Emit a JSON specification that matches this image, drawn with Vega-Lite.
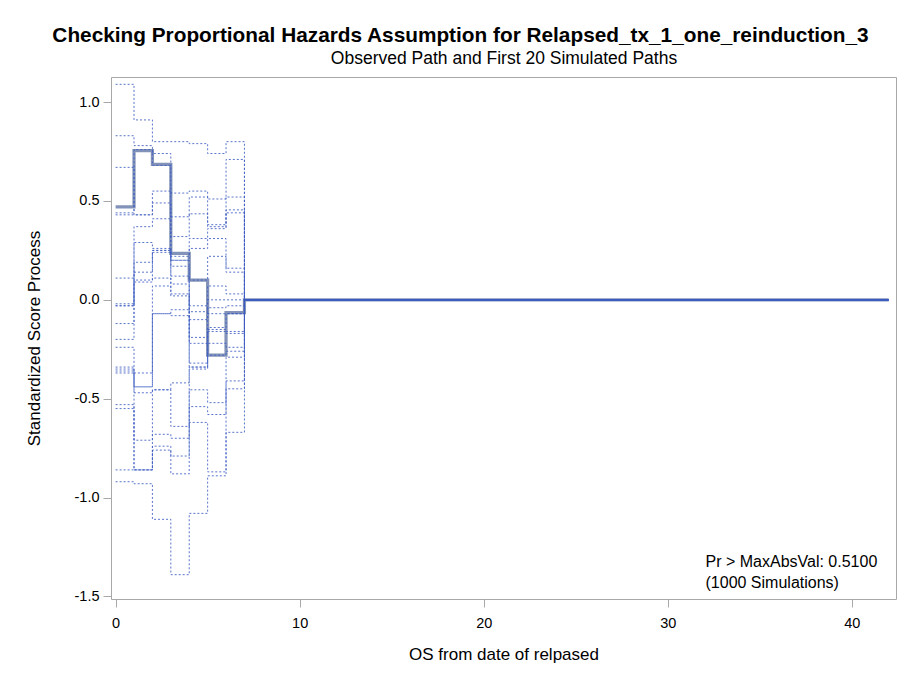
{
  "$schema": "https://vega.github.io/schema/vega-lite/v6.json",
  "width": 785,
  "height": 522,
  "autosize": {"type": "none"},
  "padding": {"left": 111, "top": 77, "right": 5, "bottom": 77},
  "background": "white",
  "title": {
    "text": "Checking Proportional Hazards Assumption for Relapsed_tx_1_one_reinduction_3",
    "anchor": "middle",
    "frame": "bounds",
    "font": "Liberation Sans",
    "fontSize": 20.8,
    "fontWeight": "bold",
    "color": "#000000",
    "offset": 2
  },
  "resolve": {"axis": {"x": "independent"}},
  "config": {
    "view": {"stroke": "#A8A8A8", "strokeWidth": 1},
    "axis": {
      "domain": false,
      "grid": false,
      "tickColor": "#A8A8A8",
      "tickSize": 8,
      "labelFont": "Liberation Sans",
      "labelFontSize": 14.5,
      "labelColor": "#000000",
      "titleFont": "Liberation Sans",
      "titleFontSize": 17,
      "titleFontWeight": "normal",
      "titleColor": "#000000"
    }
  },
  "datasets": {
    "sim": [
      {"path": "p1", "t": 0, "v": 1.09}, {"path": "p1", "t": 1, "v": 0.91}, {"path": "p1", "t": 2, "v": 0.80}, {"path": "p1", "t": 3, "v": 0.80}, {"path": "p1", "t": 4, "v": 0.79}, {"path": "p1", "t": 5, "v": 0.74}, {"path": "p1", "t": 6, "v": 0.80}, {"path": "p1", "t": 7, "v": 0}, {"path": "p1", "t": 42, "v": 0},
      {"path": "p2", "t": 0, "v": 0.83}, {"path": "p2", "t": 1, "v": 0.78}, {"path": "p2", "t": 2, "v": 0.74}, {"path": "p2", "t": 3, "v": 0.54}, {"path": "p2", "t": 4, "v": 0.55}, {"path": "p2", "t": 5, "v": 0.51}, {"path": "p2", "t": 6, "v": 0.71}, {"path": "p2", "t": 7, "v": 0}, {"path": "p2", "t": 42, "v": 0},
      {"path": "p3", "t": 0, "v": 0.67}, {"path": "p3", "t": 1, "v": 0.43}, {"path": "p3", "t": 2, "v": 0.55}, {"path": "p3", "t": 3, "v": 0.42}, {"path": "p3", "t": 4, "v": 0.52}, {"path": "p3", "t": 5, "v": 0.38}, {"path": "p3", "t": 6, "v": 0.52}, {"path": "p3", "t": 7, "v": 0}, {"path": "p3", "t": 42, "v": 0},
      {"path": "p4", "t": 0, "v": 0.44}, {"path": "p4", "t": 1, "v": 0.76}, {"path": "p4", "t": 2, "v": 0.68}, {"path": "p4", "t": 3, "v": 0.32}, {"path": "p4", "t": 4, "v": 0.435}, {"path": "p4", "t": 5, "v": 0.37}, {"path": "p4", "t": 6, "v": 0.455}, {"path": "p4", "t": 7, "v": 0}, {"path": "p4", "t": 42, "v": 0},
      {"path": "p5", "t": 0, "v": 0.43}, {"path": "p5", "t": 1, "v": 0.43}, {"path": "p5", "t": 2, "v": 0.49}, {"path": "p5", "t": 3, "v": 0.22}, {"path": "p5", "t": 4, "v": 0.31}, {"path": "p5", "t": 5, "v": 0.36}, {"path": "p5", "t": 6, "v": 0.44}, {"path": "p5", "t": 7, "v": 0}, {"path": "p5", "t": 42, "v": 0},
      {"path": "p6", "t": 0, "v": 0.11}, {"path": "p6", "t": 1, "v": 0.37}, {"path": "p6", "t": 2, "v": 0.41}, {"path": "p6", "t": 3, "v": 0.20}, {"path": "p6", "t": 4, "v": 0.26}, {"path": "p6", "t": 5, "v": 0.31}, {"path": "p6", "t": 6, "v": 0.16}, {"path": "p6", "t": 7, "v": 0}, {"path": "p6", "t": 42, "v": 0},
      {"path": "p7", "t": 0, "v": -0.02}, {"path": "p7", "t": 1, "v": 0.29}, {"path": "p7", "t": 2, "v": 0.26}, {"path": "p7", "t": 3, "v": 0.20}, {"path": "p7", "t": 4, "v": 0.10}, {"path": "p7", "t": 5, "v": 0.22}, {"path": "p7", "t": 6, "v": 0.14}, {"path": "p7", "t": 7, "v": 0}, {"path": "p7", "t": 42, "v": 0},
      {"path": "p8", "t": 0, "v": -0.03}, {"path": "p8", "t": 1, "v": 0.19}, {"path": "p8", "t": 2, "v": 0.25}, {"path": "p8", "t": 3, "v": 0.17}, {"path": "p8", "t": 4, "v": -0.03}, {"path": "p8", "t": 5, "v": 0.07}, {"path": "p8", "t": 6, "v": 0.03}, {"path": "p8", "t": 7, "v": 0}, {"path": "p8", "t": 42, "v": 0},
      {"path": "p9", "t": 0, "v": -0.03}, {"path": "p9", "t": 1, "v": 0.14}, {"path": "p9", "t": 2, "v": 0.25}, {"path": "p9", "t": 3, "v": 0.12}, {"path": "p9", "t": 4, "v": -0.06}, {"path": "p9", "t": 5, "v": 0.00}, {"path": "p9", "t": 6, "v": 0.00}, {"path": "p9", "t": 7, "v": 0}, {"path": "p9", "t": 42, "v": 0},
      {"path": "p10", "t": 0, "v": -0.12}, {"path": "p10", "t": 1, "v": 0.10}, {"path": "p10", "t": 2, "v": 0.24}, {"path": "p10", "t": 3, "v": 0.08}, {"path": "p10", "t": 4, "v": -0.10}, {"path": "p10", "t": 5, "v": -0.04}, {"path": "p10", "t": 6, "v": -0.03}, {"path": "p10", "t": 7, "v": 0}, {"path": "p10", "t": 42, "v": 0},
      {"path": "p11", "t": 0, "v": -0.20}, {"path": "p11", "t": 1, "v": 0.09}, {"path": "p11", "t": 2, "v": 0.11}, {"path": "p11", "t": 3, "v": 0.03}, {"path": "p11", "t": 4, "v": -0.19}, {"path": "p11", "t": 5, "v": -0.07}, {"path": "p11", "t": 6, "v": -0.07}, {"path": "p11", "t": 7, "v": 0}, {"path": "p11", "t": 42, "v": 0},
      {"path": "p12", "t": 0, "v": -0.24}, {"path": "p12", "t": 1, "v": -0.37}, {"path": "p12", "t": 2, "v": 0.07}, {"path": "p12", "t": 3, "v": 0.02}, {"path": "p12", "t": 4, "v": -0.22}, {"path": "p12", "t": 5, "v": -0.14}, {"path": "p12", "t": 6, "v": -0.07}, {"path": "p12", "t": 7, "v": 0}, {"path": "p12", "t": 42, "v": 0},
      {"path": "p13", "t": 0, "v": -0.34}, {"path": "p13", "t": 1, "v": -0.44}, {"path": "p13", "t": 2, "v": -0.07}, {"path": "p13", "t": 3, "v": -0.05}, {"path": "p13", "t": 4, "v": -0.32}, {"path": "p13", "t": 5, "v": -0.15}, {"path": "p13", "t": 6, "v": -0.16}, {"path": "p13", "t": 7, "v": 0}, {"path": "p13", "t": 42, "v": 0},
      {"path": "p14", "t": 0, "v": -0.35}, {"path": "p14", "t": 1, "v": -0.44}, {"path": "p14", "t": 2, "v": -0.07}, {"path": "p14", "t": 3, "v": -0.08}, {"path": "p14", "t": 4, "v": -0.34}, {"path": "p14", "t": 5, "v": -0.16}, {"path": "p14", "t": 6, "v": -0.17}, {"path": "p14", "t": 7, "v": 0}, {"path": "p14", "t": 42, "v": 0},
      {"path": "p15", "t": 0, "v": -0.36}, {"path": "p15", "t": 1, "v": -0.47}, {"path": "p15", "t": 2, "v": -0.455}, {"path": "p15", "t": 3, "v": -0.42}, {"path": "p15", "t": 4, "v": -0.34}, {"path": "p15", "t": 5, "v": -0.22}, {"path": "p15", "t": 6, "v": -0.24}, {"path": "p15", "t": 7, "v": 0}, {"path": "p15", "t": 42, "v": 0},
      {"path": "p16", "t": 0, "v": -0.37}, {"path": "p16", "t": 1, "v": -0.71}, {"path": "p16", "t": 2, "v": -0.455}, {"path": "p16", "t": 3, "v": -0.64}, {"path": "p16", "t": 4, "v": -0.35}, {"path": "p16", "t": 5, "v": -0.28}, {"path": "p16", "t": 6, "v": -0.26}, {"path": "p16", "t": 7, "v": 0}, {"path": "p16", "t": 42, "v": 0},
      {"path": "p17", "t": 0, "v": -0.53}, {"path": "p17", "t": 1, "v": -0.86}, {"path": "p17", "t": 2, "v": -0.68}, {"path": "p17", "t": 3, "v": -0.70}, {"path": "p17", "t": 4, "v": -0.455}, {"path": "p17", "t": 5, "v": -0.52}, {"path": "p17", "t": 6, "v": -0.29}, {"path": "p17", "t": 7, "v": 0}, {"path": "p17", "t": 42, "v": 0},
      {"path": "p18", "t": 0, "v": -0.55}, {"path": "p18", "t": 1, "v": -0.86}, {"path": "p18", "t": 2, "v": -0.74}, {"path": "p18", "t": 3, "v": -0.79}, {"path": "p18", "t": 4, "v": -0.54}, {"path": "p18", "t": 5, "v": -0.58}, {"path": "p18", "t": 6, "v": -0.41}, {"path": "p18", "t": 7, "v": 0}, {"path": "p18", "t": 42, "v": 0},
      {"path": "p19", "t": 0, "v": -0.86}, {"path": "p19", "t": 1, "v": -0.86}, {"path": "p19", "t": 2, "v": -0.76}, {"path": "p19", "t": 3, "v": -0.88}, {"path": "p19", "t": 4, "v": -0.62}, {"path": "p19", "t": 5, "v": -0.87}, {"path": "p19", "t": 6, "v": -0.45}, {"path": "p19", "t": 7, "v": 0}, {"path": "p19", "t": 42, "v": 0},
      {"path": "p20", "t": 0, "v": -0.92}, {"path": "p20", "t": 1, "v": -0.93}, {"path": "p20", "t": 2, "v": -1.11}, {"path": "p20", "t": 3, "v": -1.39}, {"path": "p20", "t": 4, "v": -1.08}, {"path": "p20", "t": 5, "v": -0.89}, {"path": "p20", "t": 6, "v": -0.67}, {"path": "p20", "t": 7, "v": 0}, {"path": "p20", "t": 42, "v": 0}
    ],
    "obs": [
      {"t": 0, "v": 0.47}, {"t": 1, "v": 0.755}, {"t": 2, "v": 0.685}, {"t": 3, "v": 0.235}, {"t": 4, "v": 0.10}, {"t": 5, "v": -0.28}, {"t": 6, "v": -0.065}, {"t": 7, "v": 0}, {"t": 42, "v": 0}
    ],
    "note": [
      {"t": 32.05, "v": -1.325, "label": "Pr > MaxAbsVal: 0.5100"},
      {"t": 32.05, "v": -1.43, "label": "(1000 Simulations)"}
    ]
  },
  "layer": [
    {
      "data": {"name": "obs"},
      "mark": {"type": "line", "interpolate": "step-after", "strokeWidth": 3.2, "color": "#7486B0", "opacity": 0.9, "clip": true},
      "encoding": {
        "x": {"field": "t", "type": "quantitative", "scale": {"domain": [-0.25, 42.4], "nice": false, "zero": false}, "axis": {"orient": "bottom", "values": [0, 10, 20, 30, 40], "title": "OS from date of relpased", "titlePadding": 17, "labelPadding": 9}},
        "y": {"field": "v", "type": "quantitative", "scale": {"domain": [-1.513, 1.127], "nice": false, "zero": false}, "axis": {"values": [-1.5, -1.0, -0.5, 0.0, 0.5, 1.0], "format": ".1f", "labelExpr": "replace(datum.label, '\u2212', '-')", "title": "Standardized Score Process", "titlePadding": 31, "labelPadding": 4}}
      }
    },
    {
      "data": {"name": "sim"},
      "mark": {"type": "line", "interpolate": "step-after", "strokeWidth": 1, "strokeDash": [2, 2], "color": "#3D5DC2", "opacity": 0.85, "clip": true},
      "encoding": {
        "x": {"field": "t", "type": "quantitative", "axis": null},
        "y": {"field": "v", "type": "quantitative"},
        "detail": {"field": "path"}
      }
    },
    {
      "data": {"name": "note"},
      "mark": {"type": "text", "align": "left", "baseline": "middle", "font": "Liberation Sans", "fontSize": 16, "color": "#000000"},
      "encoding": {
        "x": {"field": "t", "type": "quantitative", "axis": {"orient": "top", "title": "Observed Path and First 20 Simulated Paths", "labels": false, "ticks": false, "domain": false, "titleFontSize": 17.5, "titlePadding": 10}},
        "y": {"field": "v", "type": "quantitative"},
        "text": {"field": "label"}
      }
    }
  ]
}
